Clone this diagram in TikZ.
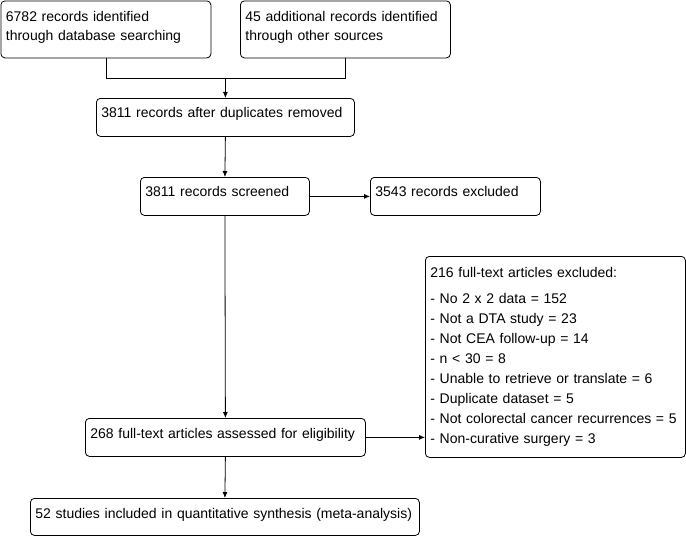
\documentclass[tikz,border=0pt]{standalone}
\usepackage{fontspec}
\setmainfont{Liberation Sans}
\usetikzlibrary{arrows.meta}
\newcommand{\mydepth}[1]{\rule[-#1]{0pt}{#1}}
\begin{document}
\begin{tikzpicture}[x=1pt,y=-1pt,
  box/.style={draw=black, line width=0.8pt, rounded corners=4pt, anchor=north west,
    inner xsep=5pt, inner ysep=0pt, align=left,
    font=\fontsize{14}{19.5}\selectfont},
  arr/.style={line width=0.8pt, -{Latex[length=6pt,width=5pt]}},
  ln/.style={line width=0.8pt}]
\useasboundingbox (0,0) rectangle (686,536);
\node[box, minimum width=210pt, minimum height=57pt, text width=200pt] (b1) at (0.5,0.5)
  {6782 records identified\\through database searching\mydepth{7pt}};
\node[box, minimum width=210pt, minimum height=57pt, text width=200pt] (b2) at (240,0.5)
  {45 additional records identified\\through other sources\mydepth{7pt}};
\node[box, minimum width=258pt, minimum height=38pt, text width=248pt] (b3) at (96,98)
  {3811 records after duplicates removed\mydepth{9pt}};
\node[box, minimum width=169pt, minimum height=38pt, text width=159pt] (b4) at (140,177)
  {3811 records screened\mydepth{10pt}};
\node[box, minimum width=170pt, minimum height=38pt, text width=160pt] (b5) at (370,177)
  {3543 records excluded\mydepth{10pt}};
\node[box, minimum width=260pt, minimum height=201pt, text width=250pt,
  font=\fontsize{14}{20}\selectfont] (b7) at (425,256)
  {216 full-text articles excluded:\\[6pt]
   - No 2 x 2 data = 152\\
   - Not a DTA study = 23\\
   - Not CEA follow-up = 14\\
   - n < 30 = 8\\
   - Unable to retrieve or translate = 6\\
   - Duplicate dataset = 5\\
   - Not colorectal cancer recurrences = 5\\
   - Non-curative surgery = 3};
\node[box, minimum width=280pt, minimum height=38pt, text width=270pt] (b6) at (85,418)
  {268 full-text articles assessed for eligibility\mydepth{8pt}};
\node[box, minimum width=389pt, minimum height=37pt, text width=379pt] (b8) at (30,498)
  {52 studies included in quantitative synthesis (meta-analysis)\mydepth{7pt}};
\coordinate (j) at (225.5,78);
\draw[ln] (b1.south) |- (j);
\draw[ln] (b2.south) |- (j);
\draw[arr] (j) -- (b3.north);
\draw[arr] (b3.south) -- (b4.north);
\draw[arr] (b4.east) -- (b5.west);
\draw[arr] (b4.south) -- (b6.north);
\draw[arr] (b6.east) -- (b6.east -| b7.west);
\draw[arr] (b6.south) -- (b8.north);
\end{tikzpicture}
\end{document}
